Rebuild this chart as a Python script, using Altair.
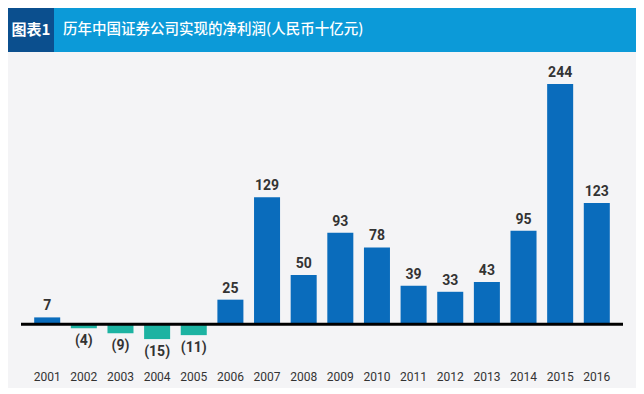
import altair as alt
import pandas as pd

years = ["2001", "2002", "2003", "2004", "2005", "2006", "2007", "2008",
         "2009", "2010", "2011", "2012", "2013", "2014", "2015", "2016"]
profits = [7, -4, -9, -15, -11, 25, 129, 50, 93, 78, 39, 33, 43, 95, 244, 123]

title_tag = "图表1"
title_text = "历年中国证券公司实现的净利润(人民币十亿元)"

df = pd.DataFrame({"year": years, "value": profits})
df["label"] = [str(v) if v >= 0 else f"({-v})" for v in profits]
df["sign"] = ["pos" if v >= 0 else "neg" for v in profits]

W, H = 602, 266
xsc = alt.Scale(paddingInner=0.29, paddingOuter=0.36)
ysc = alt.Scale(domain=[-20, 250], nice=False, zero=True)

x = alt.X("year:N", sort=years, scale=xsc,
          axis=alt.Axis(title=None, domain=False, ticks=False, labelAngle=0,
                        labelPadding=27, labelFontSize=12,
                        labelFont="Roboto", labelColor="#333333"))
y = alt.Y("value:Q", scale=ysc, axis=None)

base = alt.Chart(df)

bars = base.mark_bar().encode(
    x=x, y=y,
    color=alt.Color("sign:N", scale=alt.Scale(domain=["pos", "neg"],
                                              range=["#0a6cbc", "#1db3a2"]), legend=None),
)

pos_lbl = base.transform_filter("datum.value >= 0").mark_text(
    baseline="bottom", dy=-4, fontSize=14, fontWeight="bold", color="#333333",
    font="Roboto").encode(x=x, y=y, text="label:N")
neg_lbl = base.transform_filter("datum.value < 0").mark_text(
    baseline="top", dy=6, fontSize=14, fontWeight="bold", color="#333333",
    font="Roboto").encode(x=x, y=y, text="label:N")

zero_line = alt.Chart(pd.DataFrame({"z": [0]})).mark_rule(
    color="#000000", strokeWidth=3).encode(
    y=alt.Y("z:Q", scale=ysc, axis=None), x=alt.value(0), x2=alt.value(W))

hdr = pd.DataFrame({"t": [title_text]})
bar_bg = alt.Chart(hdr).mark_rect(color="#0c9ad8").encode(
    x=alt.value(-13), x2=alt.value(615), y=alt.value(-70), y2=alt.value(-26))
tag_bg = alt.Chart(hdr).mark_rect(color="#0b4f8e").encode(
    x=alt.value(-13), x2=alt.value(33), y=alt.value(-70), y2=alt.value(-26))
tag_txt = alt.Chart(pd.DataFrame({"t": [title_tag]})).mark_text(
    color="white", fontSize=15, fontWeight="bold", font="Noto Sans CJK SC",
    align="center", baseline="middle").encode(
    x=alt.value(10), y=alt.value(-48), text="t:N")
title_txt = alt.Chart(hdr).mark_text(
    color="white", fontSize=14.5, fontWeight=500, font="Noto Sans CJK SC",
    align="left", baseline="middle").encode(
    x=alt.value(42), y=alt.value(-48), text="t:N")

chart = alt.layer(bar_bg, tag_bg, tag_txt, title_txt, bars, zero_line, pos_lbl, neg_lbl).properties(
    width=W, height=H,
    autosize=alt.AutoSizeParams(type="none"),
    padding={"left": 13, "top": 70, "right": 13, "bottom": 44},
    background="#f4f4f6",
).configure_view(stroke=None)

chart.save("out.html", embed_options={"renderer": "svg", "actions": False})
